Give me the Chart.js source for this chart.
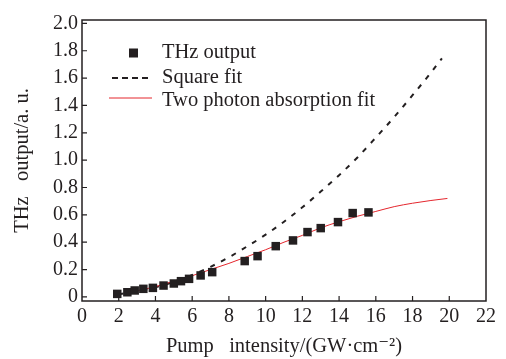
<!DOCTYPE html>
<html>
<head>
<meta charset="utf-8">
<script src="https://cdn.jsdelivr.net/npm/chart.js@4/dist/chart.umd.min.js"></script>
<style>
  html, body { margin: 0; padding: 0; background: #fff; }
  #wrap { width: 506px; height: 359px; position: relative; }
</style>
</head>
<body>
<div id="wrap"><canvas id="thzChart"></canvas></div>
<script>
// mesures (carrés)
const thzX = [1.92, 2.47, 2.87, 3.34, 3.86, 4.44, 5.0, 5.39, 5.83, 6.46, 7.09, 8.86, 9.56, 10.55, 11.49, 12.28, 13.0, 13.94, 14.74, 15.6];
const thzY = [0.022, 0.034, 0.047, 0.059, 0.066, 0.083, 0.098, 0.115, 0.132, 0.157, 0.181, 0.262, 0.298, 0.371, 0.413, 0.474, 0.503, 0.547, 0.613, 0.618];

// ajustement quadratique (pointillés)
const squareFitX = [2, 3, 4, 5, 6, 7, 8, 9, 10, 11, 12, 13, 14, 15, 16, 17, 18, 19, 19.6];
const squareFitY = [0.02, 0.04, 0.07, 0.11, 0.16, 0.22, 0.29, 0.37, 0.455, 0.55, 0.655, 0.77, 0.89, 1.02, 1.165, 1.315, 1.475, 1.64, 1.745];

// ajustement absorption à deux photons (rouge)
const tpaFitX = [2.35, 3, 4, 5, 6, 7, 8, 9, 10, 11, 12, 13, 14, 15, 16, 17, 18, 19, 19.9];
const tpaFitY = [0.03, 0.045, 0.075, 0.115, 0.155, 0.2, 0.245, 0.295, 0.345, 0.4, 0.45, 0.505, 0.55, 0.59, 0.625, 0.66, 0.685, 0.705, 0.72];

const xTicks = [0, 2, 4, 6, 8, 10, 12, 14, 16, 18, 20, 22];
const yTicks = [0, 0.2, 0.4, 0.6, 0.8, 1.0, 1.2, 1.4, 1.6, 1.8, 2.0];

const legendLabels = ['THz output', 'Square fit', 'Two photon absorption fit'];

const SERIF = '"Liberation Serif", "DejaVu Serif", serif';
const INK = '#231f20';
const RED = '#e4262d';

const toPts = (xs, ys) => xs.map((x, i) => ({ x: x, y: ys[i] }));

// cadre, graduations intérieures et légende
const framePlugin = {
    id: 'frame',
    afterDraw(chart) {
        const { ctx, chartArea: a, scales } = chart;
        ctx.save();
        ctx.strokeStyle = INK;
        ctx.lineWidth = 1.5;
        ctx.strokeRect(a.left, a.top, a.right - a.left, a.bottom - a.top);

        ctx.lineWidth = 1.2;
        ctx.beginPath();
        xTicks.forEach(v => {
            if (v === 0 || v === 22) return;
            const px = scales.x.getPixelForValue(v);
            ctx.moveTo(px, a.bottom);
            ctx.lineTo(px, a.bottom - 5);
        });
        yTicks.forEach(v => {
            const py = scales.y.getPixelForValue(v);
            ctx.moveTo(a.left, py);
            ctx.lineTo(a.left + 5, py);
        });
        ctx.stroke();

        // légende
        const lx = a.left + 80;
        const rows = [a.top + 33, a.top + 58, a.top + 81];
        ctx.fillStyle = INK;
        ctx.fillRect(a.left + 47, rows[0] - 4.5, 9, 9);

        ctx.setLineDash([6, 4]);
        ctx.lineWidth = 2;
        ctx.beginPath();
        ctx.moveTo(a.left + 30, rows[1]);
        ctx.lineTo(a.left + 66, rows[1]);
        ctx.stroke();
        ctx.setLineDash([]);

        ctx.strokeStyle = RED;
        ctx.lineWidth = 1;
        ctx.beginPath();
        ctx.moveTo(a.left + 27, rows[2] - 3);
        ctx.lineTo(a.left + 70, rows[2] - 3);
        ctx.stroke();

        ctx.font = '20.5px ' + SERIF;
        ctx.textBaseline = 'middle';
        ctx.textAlign = 'left';
        legendLabels.forEach((t, i) => ctx.fillText(t, lx, rows[i]));
        ctx.restore();
    }
};

const ctx = document.getElementById('thzChart').getContext('2d');
new Chart(ctx, {
    type: 'scatter',
    data: {
        datasets: [
            {
                label: legendLabels[0],
                data: toPts(thzX, thzY),
                pointStyle: 'rect',
                pointRadius: 6,
                pointHoverRadius: 6,
                backgroundColor: INK,
                borderColor: INK,
                borderWidth: 0,
                order: 0
            },
            {
                label: legendLabels[1],
                data: toPts(squareFitX, squareFitY),
                showLine: true,
                pointRadius: 0,
                borderColor: INK,
                borderWidth: 2,
                borderDash: [5, 7],
                cubicInterpolationMode: 'monotone',
                order: 2
            },
            {
                label: legendLabels[2],
                data: toPts(tpaFitX, tpaFitY),
                showLine: true,
                pointRadius: 0,
                borderColor: RED,
                borderWidth: 1,
                cubicInterpolationMode: 'monotone',
                order: 1
            }
        ]
    },
    options: {
        responsive: true,
        maintainAspectRatio: false,
        animation: false,
        layout: { padding: { top: 20, right: 20, left: 0, bottom: 0 } },
        plugins: {
            legend: { display: false },
            tooltip: { enabled: false }
        },
        scales: {
            x: {
                type: 'linear',
                min: 0,
                max: 22,
                afterBuildTicks: s => { s.ticks = xTicks.map(v => ({ value: v })); },
                afterFit: s => { s.height = 58; },
                grid: { display: false, drawTicks: false },
                border: { display: false },
                ticks: {
                    color: INK,
                    padding: 4,
                    maxRotation: 0,
                    font: { family: SERIF, size: 20 }
                },
                title: {
                    display: true,
                    text: 'Pump   intensity/(GW·cm⁻²)',
                    color: INK,
                    font: { family: SERIF, size: 20.5 },
                    padding: { top: 0, bottom: 0 }
                }
            },
            y: {
                type: 'linear',
                min: -0.03,
                max: 2.025,
                afterBuildTicks: s => { s.ticks = yTicks.map(v => ({ value: v })); },
                afterFit: s => { s.width = 82; },
                grid: { display: false, drawTicks: false },
                border: { display: false },
                ticks: {
                    color: INK,
                    padding: 4,
                    font: { family: SERIF, size: 20 },
                    callback: v => v === 0 ? '0' : Number(v).toFixed(1)
                },
                title: {
                    display: true,
                    text: 'THz   output/a. u.',
                    color: INK,
                    font: { family: SERIF, size: 20.5 },
                    padding: { top: 10, bottom: 0 }
                }
            }
        }
    },
    plugins: [framePlugin]
});
</script>
</body>
</html>
